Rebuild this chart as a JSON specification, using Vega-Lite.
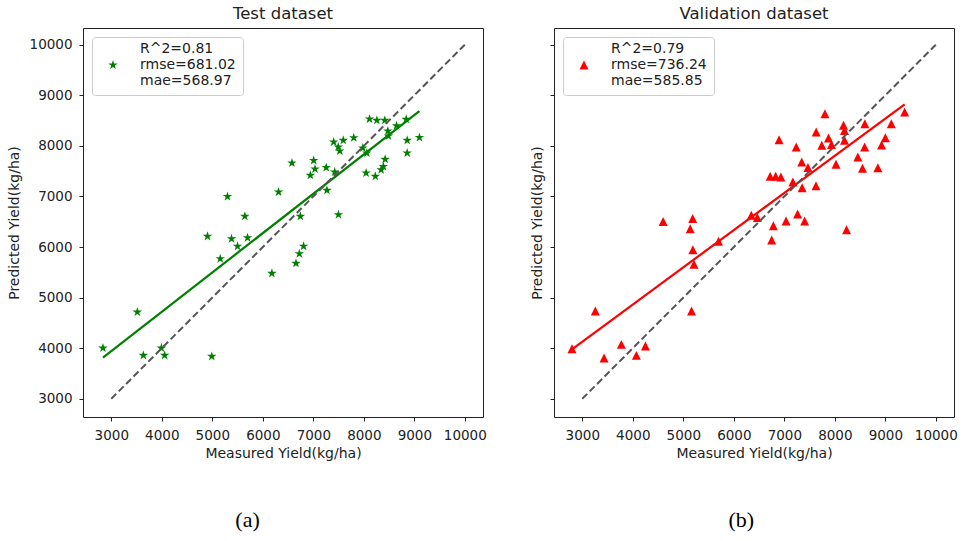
{
  "$schema": "https://vega.github.io/schema/vega-lite/v6.json",
  "background": "white",
  "padding": {"left": 6, "top": 5, "right": 6, "bottom": 4},
  "spacing": 71,
  "bounds": "flush",
  "resolve": {"scale": {"shape": "independent", "x": "independent", "y": "independent"}, "legend": {"shape": "independent"}},
  "config": {
    "font": "DejaVu Sans",
    "view": {"stroke": "#222", "strokeWidth": 1},
    "axis": {"grid": false, "domain": false, "tickColor": "#222", "tickSize": 4, "labelFontSize": 13.5, "labelColor": "#222", "titleFontSize": 14, "titleFontWeight": "normal", "titleColor": "#222", "labelPadding": 7},
    "title": {"fontSize": 16.5, "fontWeight": "normal", "color": "#222", "offset": 6, "frame": "group"},
    "legend": {"orient": "top-left", "offset": 9, "padding": 7, "strokeColor": "#cccccc", "fillColor": "white", "cornerRadius": 3, "labelFontSize": 14, "labelColor": "#222", "labelLimit": 400, "symbolOffset": 7, "labelOffset": 20, "symbolSize": 100, "symbolStrokeWidth": 0, "titleFontSize": 14, "titlePadding": 0, "titleLineHeight": 16}
  },
  "datasets": {
    "ident": [{"x": 3000, "y": 3000}, {"x": 10000, "y": 10000}],
    "testfit": [{"x": 2835, "y": 3812}, {"x": 9101, "y": 8687}],
    "valfit": [{"x": 2796, "y": 3979}, {"x": 9383, "y": 8821}],
    "test": [
      {"x": 2835, "y": 4003}, {"x": 3516, "y": 4715}, {"x": 3635, "y": 3858}, {"x": 3992, "y": 4003}, {"x": 4057, "y": 3858},
      {"x": 4990, "y": 3838}, {"x": 4905, "y": 6211}, {"x": 5157, "y": 5769}, {"x": 5301, "y": 6999}, {"x": 5381, "y": 6164},
      {"x": 5500, "y": 6014}, {"x": 5645, "y": 6607}, {"x": 5698, "y": 6184}, {"x": 6180, "y": 5480}, {"x": 6313, "y": 7088},
      {"x": 6577, "y": 7661}, {"x": 6657, "y": 5678}, {"x": 6724, "y": 5867}, {"x": 6744, "y": 6607}, {"x": 6807, "y": 6016},
      {"x": 6942, "y": 7418}, {"x": 7008, "y": 7710}, {"x": 7034, "y": 7542}, {"x": 7256, "y": 7572}, {"x": 7270, "y": 7121},
      {"x": 7424, "y": 7483}, {"x": 7498, "y": 6639}, {"x": 7404, "y": 8076}, {"x": 7593, "y": 8110}, {"x": 7801, "y": 8161},
      {"x": 7494, "y": 7977}, {"x": 7524, "y": 7898}, {"x": 7980, "y": 7958}, {"x": 8059, "y": 7859}, {"x": 8113, "y": 8531},
      {"x": 8258, "y": 8505}, {"x": 8416, "y": 8505}, {"x": 8839, "y": 8525}, {"x": 8648, "y": 8399}, {"x": 8476, "y": 8294},
      {"x": 8486, "y": 8195}, {"x": 8859, "y": 8110}, {"x": 9101, "y": 8165}, {"x": 8859, "y": 7859}, {"x": 8422, "y": 7734},
      {"x": 8387, "y": 7592}, {"x": 8343, "y": 7528}, {"x": 8045, "y": 7463}, {"x": 8228, "y": 7398}
    ],
    "val": [
      {"x": 2796, "y": 3989}, {"x": 3258, "y": 4734}, {"x": 3431, "y": 3805}, {"x": 3774, "y": 4076}, {"x": 4071, "y": 3858},
      {"x": 4250, "y": 4042}, {"x": 5163, "y": 4734}, {"x": 4601, "y": 6504}, {"x": 5186, "y": 6563}, {"x": 5137, "y": 6362},
      {"x": 5190, "y": 5947}, {"x": 5212, "y": 5658}, {"x": 5698, "y": 6115}, {"x": 6347, "y": 6627}, {"x": 6466, "y": 6583},
      {"x": 6783, "y": 6421}, {"x": 6750, "y": 6138}, {"x": 7035, "y": 6514}, {"x": 7264, "y": 6652}, {"x": 7403, "y": 6514},
      {"x": 8232, "y": 6342}, {"x": 6720, "y": 7398}, {"x": 6829, "y": 7398}, {"x": 6932, "y": 7384}, {"x": 7170, "y": 7285},
      {"x": 7353, "y": 7171}, {"x": 7627, "y": 7212}, {"x": 7345, "y": 7681}, {"x": 7468, "y": 7572}, {"x": 8024, "y": 7635},
      {"x": 8456, "y": 7780}, {"x": 8549, "y": 7558}, {"x": 8853, "y": 7568}, {"x": 6897, "y": 8122}, {"x": 7236, "y": 7977},
      {"x": 7631, "y": 8274}, {"x": 7805, "y": 8636}, {"x": 8172, "y": 8406}, {"x": 8192, "y": 8304}, {"x": 8595, "y": 8438},
      {"x": 9119, "y": 8438}, {"x": 9383, "y": 8670}, {"x": 7875, "y": 8155}, {"x": 7742, "y": 8011}, {"x": 7934, "y": 8027},
      {"x": 8192, "y": 8110}, {"x": 8590, "y": 7977}, {"x": 9000, "y": 8161}, {"x": 8926, "y": 8017}
    ]
  },
  "hconcat": [
    {
      "width": 400,
      "height": 389,
      "title": "Test dataset",
      "layer": [
        {
          "data": {"name": "test"},
          "mark": {"type": "point", "filled": true, "color": "#008000", "opacity": 1, "size": 100, "strokeWidth": 0},
          "encoding": {
            "x": {"field": "x", "type": "quantitative", "scale": {"domain": [2440, 10360], "nice": false, "zero": false},
                  "axis": {"values": [3000, 4000, 5000, 6000, 7000, 8000, 9000, 10000], "format": "d", "title": "Measured Yield(kg/ha)", "titlePadding": 5}},
            "y": {"field": "y", "type": "quantitative", "scale": {"domain": [2640, 10330], "nice": false, "zero": false},
                  "axis": {"values": [3000, 4000, 5000, 6000, 7000, 8000, 9000, 10000], "format": "d", "title": "Predicted Yield(kg/ha)", "titlePadding": 8}},
            "shape": {"datum": "R^2=0.81|rmse=681.02|mae=568.97", "type": "nominal",
                      "scale": {"range": ["M0,-1L0.225,-0.309L0.951,-0.309L0.363,0.118L0.588,0.809L0,0.382L-0.588,0.809L-0.363,0.118L-0.951,-0.309L-0.225,-0.309Z"]},
                      "legend": {"title": " ", "labelExpr": "split(datum.label, '|')",
                                 "encoding": {"labels": {"lineHeight": {"value": 16}, "dy": {"value": -16}}}}}
          }
        },
        {
          "data": {"name": "testfit"},
          "mark": {"type": "line", "color": "#008000", "strokeWidth": 2.2},
          "encoding": {"x": {"field": "x", "type": "quantitative"}, "y": {"field": "y", "type": "quantitative"}}
        },
        {
          "data": {"name": "ident"},
          "mark": {"type": "line", "color": "#555555", "strokeWidth": 2, "strokeDash": [7, 3.5]},
          "encoding": {"x": {"field": "x", "type": "quantitative"}, "y": {"field": "y", "type": "quantitative"}}
        },
        {
          "data": {"values": [{"caption": "(a)"}]},
          "mark": {"type": "text", "font": "Liberation Serif", "fontSize": 22, "color": "#000", "baseline": "middle"},
          "encoding": {"x": {"datum": 5698}, "y": {"datum": 601}, "text": {"field": "caption"}}
        }
      ]
    },
    {
      "width": 400,
      "height": 389,
      "title": "Validation dataset",
      "layer": [
        {
          "data": {"name": "val"},
          "mark": {"type": "point", "filled": true, "color": "#ff0000", "opacity": 1, "size": 80, "strokeWidth": 0},
          "encoding": {
            "x": {"field": "x", "type": "quantitative", "scale": {"domain": [2440, 10360], "nice": false, "zero": false},
                  "axis": {"values": [3000, 4000, 5000, 6000, 7000, 8000, 9000, 10000], "format": "d", "title": "Measured Yield(kg/ha)", "titlePadding": 5}},
            "y": {"field": "y", "type": "quantitative", "scale": {"domain": [2640, 10330], "nice": false, "zero": false},
                  "axis": {"values": [3000, 4000, 5000, 6000, 7000, 8000, 9000, 10000], "labels": false, "title": "Predicted Yield(kg/ha)", "titlePadding": 5}},
            "shape": {"datum": "R^2=0.79|rmse=736.24|mae=585.85", "type": "nominal",
                      "scale": {"range": ["M0,-1L1,1L-1,1Z"]},
                      "legend": {"title": " ", "labelExpr": "split(datum.label, '|')", "symbolSize": 80,
                                 "encoding": {"labels": {"lineHeight": {"value": 16}, "dy": {"value": -16}}}}}
          }
        },
        {
          "data": {"name": "valfit"},
          "mark": {"type": "line", "color": "#ff0000", "strokeWidth": 2.2},
          "encoding": {"x": {"field": "x", "type": "quantitative"}, "y": {"field": "y", "type": "quantitative"}}
        },
        {
          "data": {"name": "ident"},
          "mark": {"type": "line", "color": "#555555", "strokeWidth": 2, "strokeDash": [7, 3.5]},
          "encoding": {"x": {"field": "x", "type": "quantitative"}, "y": {"field": "y", "type": "quantitative"}}
        },
        {
          "data": {"values": [{"caption": "(b)"}]},
          "mark": {"type": "text", "font": "Liberation Serif", "fontSize": 22, "color": "#000", "baseline": "middle"},
          "encoding": {"x": {"datum": 6149}, "y": {"datum": 601}, "text": {"field": "caption"}}
        }
      ]
    }
  ]
}
